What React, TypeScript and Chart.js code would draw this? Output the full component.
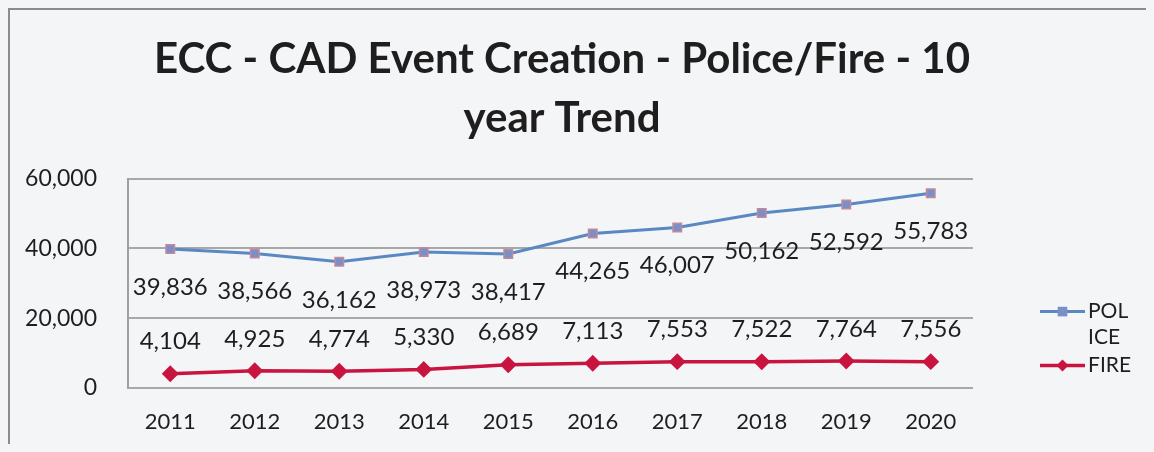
import React, { useEffect, useRef } from "react";
import { Chart, registerables } from "chart.js";

Chart.register(...registerables);

const years = ["2011", "2012", "2013", "2014", "2015", "2016", "2017", "2018", "2019", "2020"];
const policeValues = [39836, 38566, 36162, 38973, 38417, 44265, 46007, 50162, 52592, 55783];
const fireValues = [4104, 4925, 4774, 5330, 6689, 7113, 7553, 7522, 7764, 7556];
const seriesNames = ["POLICE", "FIRE"];
const legendLines = [["POL", "ICE"], ["FIRE"]];
const titleLines = ["ECC - CAD Event Creation - Police/Fire - 10", "year Trend"];
const yMin = 0;
const yMax = 60000;
const yStep = 20000;

const BG = "#f4f5f7";
const TEXT = "#1e1e1e";
const FONT = "Lato";

const bgPlugin = {
  id: "bgFrame",
  beforeDraw(chart: any) {
    const { ctx, width, height } = chart;
    ctx.save();
    ctx.fillStyle = BG;
    ctx.fillRect(0, 0, width, height);
    ctx.strokeStyle = "#8c8c8c";
    ctx.lineWidth = 2;
    ctx.beginPath();
    ctx.moveTo(1, height);
    ctx.lineTo(1, 1);
    ctx.lineTo(width, 1);
    ctx.stroke();
    ctx.restore();
  },
};

const labelPlugin = {
  id: "valueLabels",
  afterDatasetsDraw(chart: any, _args: any, opts: any) {
    const ctx = chart.ctx;
    ctx.save();
    ctx.font = `${opts.size}px ${FONT}`;
    ctx.fillStyle = TEXT;
    ctx.textAlign = "center";
    ctx.textBaseline = "middle";
    chart.data.datasets.forEach((ds: any, i: number) => {
      const meta = chart.getDatasetMeta(i);
      const off = opts.offsets[i];
      meta.data.forEach((pt: any, j: number) => {
        ctx.fillText(Number(ds.data[j]).toLocaleString("en-US"), pt.x, pt.y + off);
      });
    });
    ctx.restore();
  },
};

function drawMarker(ctx: CanvasRenderingContext2D, style: string, x: number, y: number, r: number) {
  ctx.beginPath();
  if (style === "rectRot") {
    ctx.moveTo(x, y - r);
    ctx.lineTo(x + r, y);
    ctx.lineTo(x, y + r);
    ctx.lineTo(x - r, y);
    ctx.closePath();
  } else {
    ctx.rect(x - r * 0.8, y - r * 0.8, r * 1.6, r * 1.6);
  }
  ctx.fill();
}

const legendPlugin = {
  id: "sideLegend",
  afterDraw(chart: any, _args: any, opts: any) {
    const ctx = chart.ctx;
    const area = chart.chartArea;
    ctx.save();
    ctx.font = `${opts.size}px ${FONT}`;
    ctx.textBaseline = "middle";
    ctx.textAlign = "left";
    chart.data.datasets.forEach((ds: any, i: number) => {
      const x0 = area.right + opts.left;
      const y = area.top + opts.tops[i];
      ctx.strokeStyle = ds.borderColor;
      ctx.lineWidth = ds.borderWidth;
      ctx.beginPath();
      ctx.moveTo(x0, y);
      ctx.lineTo(x0 + opts.lineLen, y);
      ctx.stroke();
      ctx.fillStyle = ds.pointBackgroundColor || ds.backgroundColor;
      drawMarker(ctx, ds.pointStyle, x0 + opts.lineLen / 2, y, ds.pointRadius);
      ctx.fillStyle = TEXT;
      legendLines[i].forEach((line, k) => {
        ctx.fillText(line, x0 + opts.lineLen + 3, y + k * opts.lineGap);
      });
    });
    ctx.restore();
  },
};

export default function App() {
  const ref = useRef<HTMLCanvasElement>(null);
  useEffect(() => {
    document.body.style.background = BG;
    const canvas = ref.current!;
    const chart = new Chart(canvas, {
      type: "line",
      data: {
        labels: years,
        datasets: [
          {
            label: seriesNames[0],
            data: policeValues,
            borderColor: "#5a88c2",
            backgroundColor: "#7b8fc6",
            pointBackgroundColor: "#7b8fc6",
            pointBorderColor: "#c08a9c",
            pointBorderWidth: 1.5,
            pointStyle: "rect",
            pointRadius: 6,
            borderWidth: 3,
            tension: 0,
          },
          {
            label: seriesNames[1],
            data: fireValues,
            borderColor: "#c8143f",
            backgroundColor: "#c8143f",
            pointBackgroundColor: "#c8143f",
            pointBorderColor: "#c8143f",
            pointStyle: "rectRot",
            pointRadius: 6,
            borderWidth: 3.5,
            tension: 0,
          },
        ],
      },
      options: {
        animation: false,
        responsive: false,
        layout: { padding: { left: 0, right: 38, top: 0, bottom: 0 } },
        plugins: {
          legend: { display: false },
          tooltip: { enabled: false },
          title: {
            display: true,
            text: titleLines,
            color: TEXT,
            font: { family: FONT, size: 42, weight: "bold", lineHeight: 1.4 },
            padding: { top: 22, bottom: 31 },
          },
          valueLabels: { size: 24, offsets: [38, -32] },
          sideLegend: { size: 21, left: 67, lineLen: 45, lineGap: 26, tops: [133, 187] },
        } as any,
        scales: {
          x: {
            offset: true,
            grid: { display: false, drawTicks: false, offset: true },
            border: { display: false },
            ticks: {
              color: TEXT,
              font: { family: FONT, size: 22 },
              padding: 21,
              maxRotation: 0,
              autoSkip: false,
            },
            afterFit: (s: any) => {
              s.height = 56;
            },
          },
          y: {
            min: yMin,
            max: yMax,
            ticks: {
              stepSize: yStep,
              color: TEXT,
              font: { family: FONT, size: 23 },
              padding: 31,
            },
            grid: { color: "#a8a8a8", lineWidth: 2, drawTicks: false },
            border: { display: true, color: "#a0a0a0", width: 2 },
            afterFit: (s: any) => {
              s.width = 120;
            },
          },
          yRight: {
            position: "right",
            display: true,
            grid: { display: false, drawTicks: false },
            ticks: { display: false },
            border: { display: false },
            afterFit: (s: any) => {
              s.width = 143;
            },
          },
        },
      },
      plugins: [bgPlugin, labelPlugin, legendPlugin],
    });
    return () => chart.destroy();
  }, []);
  return (
    <canvas
      ref={ref}
      width={1146}
      height={436}
      style={{ display: "block", width: 1146, height: 436 }}
    />
  );
}
